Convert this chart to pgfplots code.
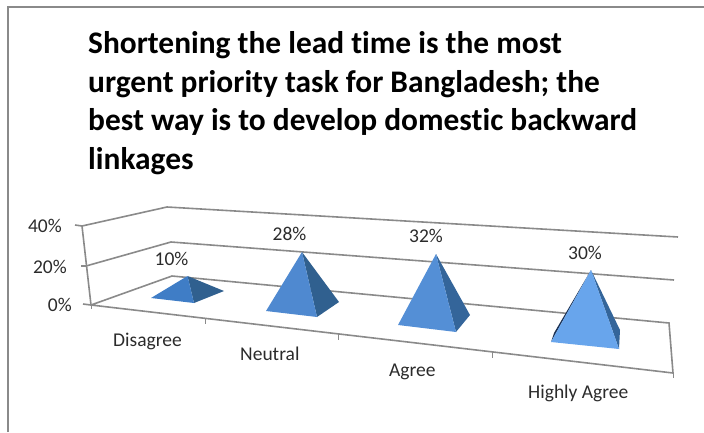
\documentclass[border=0pt]{standalone}
\usepackage{pgfplots}
\pgfplotsset{compat=1.18}
\usepackage{fontspec}
\setmainfont{Carlito}[Ligatures=NoCommon]
\definecolor{rule}{HTML}{8A8A8A}
\definecolor{labeltext}{HTML}{2B2B2B}
\definecolor{sideA}{HTML}{30608F}
\definecolor{sideB}{HTML}{34659A}
\definecolor{frontA}{HTML}{3F7DC6}
\definecolor{frontB}{HTML}{4F89D0}
\definecolor{frontC}{HTML}{548FD6}
\definecolor{frontD}{HTML}{68A5EC}
\definecolor{sliver}{HTML}{1C3254}
% Each face row: pixel x, floor y under the vertex, percent above the floor, pixels per percent
\pgfplotsset{
  face/.style={draw=none, fill=#1, mark=none, forget plot},
  grid line/.style={draw=rule, line width=1.6pt, mark=none, forget plot},
  table/pyramid/.style={x=x, y expr=\thisrow{floor}-\thisrow{pct}*\thisrow{rise}, row sep=\\},
}
\newcommand{\chartlabel}[4]{\node[anchor=#1, text=labeltext, font=\fontsize{19.5}{21}\selectfont, inner sep=0pt] at (axis cs:#2,#3) {#4};}
\newcommand{\titleline}[2]{\node[anchor=base west, inner sep=0pt, font=\fontsize{31.4}{33}\selectfont\bfseries] at (axis cs:88,#1) {#2};}
\begin{document}
\begin{tikzpicture}
\begin{axis}[
  scale only axis, width=704pt, height=432pt,
  xmin=0, xmax=704, ymin=0, ymax=432, y dir=reverse,
  axis lines=none, clip=true,
]
% outer frame
\addplot[draw=rule, line width=2pt, mark=none, forget plot] coordinates {(7.5,432) (7.5,7) (704,7)};

% value walls: 40% and 20% levels
\addplot[grid line] coordinates {(75,225) (82,226) (167,207) (678,237)};
\addplot[grid line] coordinates {(81,266) (86,266) (171,242) (674,280)};
% left edge of the value scale
\addplot[grid line] coordinates {(82,226) (91,305)};
% floor outline
\addplot[grid line] coordinates {(83,304) (91,305) (172,276) (669,323) (673,373) (91,305)};
% category ticks
\addplot[grid line, line width=1pt] coordinates {(91,305) (91,309)};
\addplot[grid line, line width=1pt] coordinates {(205,318) (205,324)};
\addplot[grid line, line width=1pt] coordinates {(338,334) (338,340)};
\addplot[grid line, line width=1pt] coordinates {(492,352) (492,358)};
\addplot[grid line, line width=1pt] coordinates {(673,373) (673,378)};

% Disagree, 10%
\addplot[face=sideA] table[pyramid] {x floor pct rise\\ 187.5 296 10 2.0\\ 194 303 0 2.0\\ 224 291 0 2.0\\};
\addplot[face=frontA] table[pyramid] {x floor pct rise\\ 187.5 296 10 2.0\\ 151 298 0 2.0\\ 194 303 0 2.0\\};
% Neutral, 28%
\addplot[face=sideA] table[pyramid] {x floor pct rise\\ 302 308 28 2.0\\ 317 317 0 2.0\\ 339 302 0 2.0\\};
\addplot[face=frontB] table[pyramid] {x floor pct rise\\ 302 308 28 2.0\\ 266 311 0 2.0\\ 317 317 0 2.0\\};
% Agree, 32%
\addplot[face=sideB] table[pyramid] {x floor pct rise\\ 436 322.8 32 2.15\\ 456 332 0 2.15\\ 470 315 0 2.15\\};
\addplot[face=frontC] table[pyramid] {x floor pct rise\\ 436 322.8 32 2.15\\ 398 325 0 2.15\\ 456 332 0 2.15\\};
% Highly Agree, 30%
\addplot[face=sliver] table[pyramid] {x floor pct rise\\ 591 339 30 2.3\\ 551 342 0 2.3\\ 554 333 0 2.3\\};
\addplot[face=sideB] table[pyramid] {x floor pct rise\\ 591 339 30 2.3\\ 619 349 0 2.3\\ 620 330 0 2.3\\};
\addplot[face=frontD] table[pyramid] {x floor pct rise\\ 591 339 30 2.3\\ 551 342 0 2.3\\ 619 349 0 2.3\\};

% title
\titleline{53}{Shortening the lead time is the most}
\titleline{92}{urgent priority task for Bangladesh; the}
\titleline{130}{best way is to develop domestic backward}
\titleline{169}{linkages}

% value scale
\chartlabel{base east}{62}{232}{40\%}
\chartlabel{base east}{67}{273}{20\%}
\chartlabel{base east}{72}{311}{0\%}
% categories
\chartlabel{base west}{113}{346}{Disagree}
\chartlabel{base west}{240}{360}{Neutral}
\chartlabel{base west}{389}{376}{Agree}
\chartlabel{base west}{528}{398}{Highly Agree}
% pyramid values
\chartlabel{base}{171.5}{265}{10\%}
\chartlabel{base}{289.5}{240}{28\%}
\chartlabel{base}{426}{242}{32\%}
\chartlabel{base}{585}{259}{30\%}
\end{axis}
% page extent follows the full plot area
\path[use as bounding box] (current axis.south west) rectangle (current axis.north east);
\end{tikzpicture}
\end{document}
